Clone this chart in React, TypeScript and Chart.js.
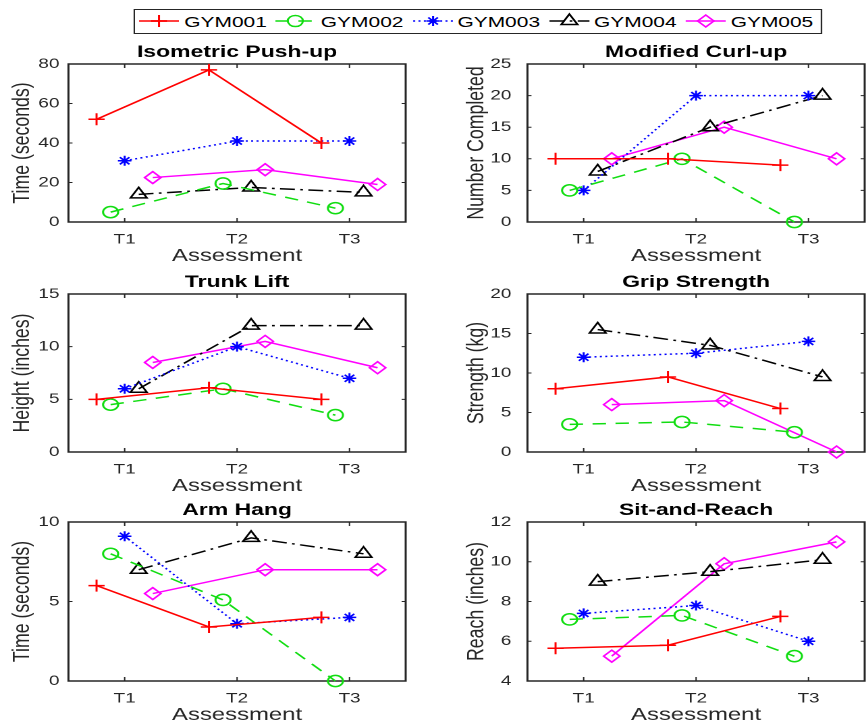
import React, { useEffect, useRef } from "react";
import { Chart, registerables } from "chart.js";

Chart.register(...registerables);

// ---------- data ----------
const assessments = ["T1", "T2", "T3"];
const gyms = ["GYM001", "GYM002", "GYM003", "GYM004", "GYM005"];

// rows = GYM001..GYM005, columns = T1..T3
const pushUpValues = [
  [52, 77, 40],
  [5, 19.5, 7],
  [31, 41, 41],
  [14, 17.5, 15],
  [22.5, 26.5, 19],
];
const curlUpValues = [
  [10, 10, 9],
  [5, 10, 0],
  [5, 20, 20],
  [8, 15, 20],
  [10, 15, 10],
];
const trunkLiftValues = [
  [5, 6.1, 5],
  [4.5, 6, 3.5],
  [6, 10, 7],
  [6, 12, 12],
  [8.5, 10.5, 8],
];
const gripValues = [
  [8, 9.5, 5.5],
  [3.5, 3.8, 2.5],
  [12, 12.5, 14],
  [15.5, 13.5, 9.5],
  [6, 6.5, 0],
];
const armHangValues = [
  [6, 3.4, 4],
  [8, 5.1, 0],
  [9.1, 3.6, 4],
  [7, 9, 8],
  [5.5, 7, 7],
];
const sitReachValues = [
  [5.65, 5.8, 7.25],
  [7.1, 7.3, 5.25],
  [7.4, 7.8, 6],
  [9, 9.5, 10.1],
  [5.25, 9.9, 11],
];

// horizontal dodge of each group around the assessment position
const dodge = [-0.25, -0.125, 0, 0.125, 0.25];

// ---------- styling ----------
const S = 1.35; // horizontal stretch of the whole figure
const FONT = "'Liberation Sans', Arial, Helvetica, sans-serif";
const TEXT = "#262626";

const seriesStyles = [
  { color: "#ff0000", dash: [] as number[], point: "cross", radius: 6 },
  { color: "#11dd11", dash: [10, 7], point: "circle", radius: 5.6 },
  { color: "#0000ff", dash: [1.5, 2.5], point: "star", radius: 5 },
  { color: "#000000", dash: [11, 4, 2, 4], point: "triangle", radius: 7 },
  { color: "#ff00ff", dash: [] as number[], point: "rectRot", radius: 6 },
];

const panels = [
  { title: "Isometric Push-up", yLabel: "Time (seconds)", min: 0, max: 80, step: 20, values: pushUpValues, col: 0, row: 0 },
  { title: "Modified Curl-up", yLabel: "Number Completed", min: 0, max: 25, step: 5, values: curlUpValues, col: 1, row: 0 },
  { title: "Trunk Lift", yLabel: "Height (inches)", min: 0, max: 15, step: 5, values: trunkLiftValues, col: 0, row: 1 },
  { title: "Grip Strength", yLabel: "Strength (kg)", min: 0, max: 20, step: 5, values: gripValues, col: 1, row: 1 },
  { title: "Arm Hang", yLabel: "Time (seconds)", min: 0, max: 10, step: 5, values: armHangValues, col: 0, row: 2 },
  { title: "Sit-and-Reach", yLabel: "Reach (inches)", min: 4, max: 12, step: 2, values: sitReachValues, col: 1, row: 2 },
];

// layout (logical px, before horizontal stretch)
const Y_AXIS_W = 50.7;
const X_AXIS_H = 44;
const TITLE_H = 24;
const CANVAS_W = 309;
const colLeft = [0, 339.7];
const colTickPad = [6.7, 11.9];
const colTitlePad = [7.8, 4.5];
const rowPlotTop = [64, 294, 522];
const rowPlotH = [158, 158, 159];

const boxPlugin = {
  id: "matlabBox",
  beforeDatasetsDraw(chart: any) {
    const { ctx, chartArea, scales } = chart;
    const { left, right, top, bottom } = chartArea;
    ctx.save();
    ctx.strokeStyle = TEXT;
    ctx.lineWidth = 1.5;
    ctx.setLineDash([]);
    ctx.strokeRect(left, top, right - left, bottom - top);
    ctx.lineWidth = 1;
    ctx.beginPath();
    scales.x.ticks.forEach((t: any) => {
      const px = scales.x.getPixelForValue(t.value);
      ctx.moveTo(px, bottom);
      ctx.lineTo(px, bottom - 4);
      ctx.moveTo(px, top);
      ctx.lineTo(px, top + 4);
    });
    scales.y.ticks.forEach((t: any) => {
      const py = scales.y.getPixelForValue(t.value);
      ctx.moveTo(left, py);
      ctx.lineTo(left + 3, py);
      ctx.moveTo(right, py);
      ctx.lineTo(right - 3, py);
    });
    ctx.stroke();
    ctx.restore();
  },
};

function Panel({ p }: { p: (typeof panels)[number] }) {
  const ref = useRef<HTMLCanvasElement | null>(null);
  const height = TITLE_H + rowPlotH[p.row] + X_AXIS_H;
  const top = rowPlotTop[p.row] - TITLE_H;
  useEffect(() => {
    if (!ref.current) return;
    const chart = new Chart(ref.current, {
      type: "line",
      data: {
        datasets: gyms.map((g, i) => {
          const st = seriesStyles[i];
          return {
            label: g,
            data: p.values[i].map((v, j) => ({ x: j + 1 + dodge[i], y: v })),
            borderColor: st.color,
            backgroundColor: "rgba(0,0,0,0)",
            borderWidth: 1.5,
            borderDash: st.dash,
            pointStyle: st.point as any,
            pointRadius: st.radius,
            pointBorderWidth: 1.5,
            pointBorderColor: st.color,
            pointBackgroundColor: "rgba(0,0,0,0)",
            fill: false,
            tension: 0,
            clip: false as any,
          };
        }),
      },
      options: {
        animation: false,
        responsive: false,
        devicePixelRatio: 2,
        events: [],
        layout: { padding: 0 },
        plugins: {
          legend: { display: false },
          tooltip: { enabled: false },
          title: {
            display: true,
            fullSize: false,
            text: p.title,
            color: "#000",
            font: { family: FONT, size: 17, weight: "bold", lineHeight: 1 },
            padding: { top: 4, bottom: 3 },
          },
        },
        scales: {
          x: {
            type: "linear",
            min: 0.5,
            max: 3.5,
            afterBuildTicks: (s: any) => {
              s.ticks = assessments.map((_, i) => ({ value: i + 1 }));
            },
            afterFit: (s: any) => {
              s.height = X_AXIS_H;
            },
            grid: { display: false, drawTicks: false },
            border: { display: false },
            ticks: {
              autoSkip: false,
              maxRotation: 0,
              padding: 9,
              color: TEXT,
              font: { family: FONT, size: 14 },
              callback: (v: any) => assessments[Math.round(Number(v)) - 1] ?? "",
            },
            title: {
              display: true,
              text: "Assessment",
              color: TEXT,
              font: { family: FONT, size: 17.7, lineHeight: 1 },
              padding: { top: 0, bottom: 1 },
            },
          },
          y: {
            type: "linear",
            min: p.min,
            max: p.max,
            afterFit: (s: any) => {
              s.width = Y_AXIS_W;
            },
            grid: { display: false, drawTicks: false },
            border: { display: false },
            ticks: {
              stepSize: p.step,
              padding: colTickPad[p.col],
              color: TEXT,
              font: { family: FONT, size: 14 },
            },
            title: {
              display: true,
              text: p.yLabel,
              color: TEXT,
              font: { family: FONT, size: 17.7, lineHeight: 1 },
              padding: { top: colTitlePad[p.col], bottom: 0 },
            },
          },
        },
      },
      plugins: [boxPlugin],
    } as any);
    return () => chart.destroy();
  }, [p]);
  return (
    <canvas
      ref={ref}
      width={CANVAS_W}
      height={height}
      style={{ position: "absolute", left: colLeft[p.col], top }}
    />
  );
}

function LegendIcon({ i }: { i: number }) {
  const st = seriesStyles[i];
  const w = 29.6;
  const h = 18;
  const cx = w / 2;
  const cy = h / 2;
  const r = st.radius;
  const common = { stroke: st.color, strokeWidth: 1.5, fill: "none" };
  let marker: React.ReactNode = null;
  if (st.point === "cross") {
    marker = <path d={`M${cx - r} ${cy}H${cx + r}M${cx} ${cy - r}V${cy + r}`} {...common} />;
  } else if (st.point === "circle") {
    marker = <circle cx={cx} cy={cy} r={r} {...common} />;
  } else if (st.point === "star") {
    const d = r * Math.SQRT1_2;
    marker = (
      <path
        d={`M${cx - r} ${cy}H${cx + r}M${cx} ${cy - r}V${cy + r}M${cx - d} ${cy - d}L${cx + d} ${cy + d}M${cx - d} ${cy + d}L${cx + d} ${cy - d}`}
        {...common}
      />
    );
  } else if (st.point === "triangle") {
    const s3 = Math.sin((2 * Math.PI) / 3) * r;
    marker = (
      <path d={`M${cx} ${cy - r}L${cx + s3} ${cy + r / 2}L${cx - s3} ${cy + r / 2}Z`} {...common} />
    );
  } else {
    marker = <path d={`M${cx - r} ${cy}L${cx} ${cy - r}L${cx + r} ${cy}L${cx} ${cy + r}Z`} {...common} />;
  }
  return (
    <svg width={w} height={h} style={{ display: "block", overflow: "visible", flex: "none" }}>
      <line
        x1={0}
        y1={cy}
        x2={w}
        y2={cy}
        stroke={st.color}
        strokeWidth={1.5}
        strokeDasharray={st.dash.length ? st.dash.join(" ") : undefined}
      />
      {marker}
    </svg>
  );
}

function Legend() {
  return (
    <div
      style={{
        position: "absolute",
        left: 99.3,
        top: 9,
        width: 509.6,
        height: 24.5,
        boxSizing: "border-box",
        border: `1.5px solid ${TEXT}`,
        background: "#fff",
        display: "flex",
        alignItems: "center",
        paddingLeft: 2.9,
      }}
    >
      {gyms.map((g, i) => (
        <div key={g} style={{ display: "flex", alignItems: "center", width: 101.2, flex: "none" }}>
          <LegendIcon i={i} />
          <span
            style={{
              marginLeft: 3.7,
              fontFamily: FONT,
              fontSize: 15.5,
              color: "#000",
              lineHeight: 1,
              whiteSpace: "nowrap",
            }}
          >
            {g}
          </span>
        </div>
      ))}
    </div>
  );
}

export default function App() {
  return (
    <div
      style={{
        position: "fixed",
        left: 0,
        top: 0,
        width: 867,
        height: 723,
        overflow: "hidden",
        background: "#fff",
      }}
    >
      <div
        style={{
          position: "absolute",
          left: 0,
          top: 0,
          width: 867 / S + 20,
          height: 723,
          transform: `scaleX(${S})`,
          transformOrigin: "0 0",
        }}
      >
        <Legend />
        {panels.map((p) => (
          <Panel key={p.title} p={p} />
        ))}
      </div>
    </div>
  );
}
